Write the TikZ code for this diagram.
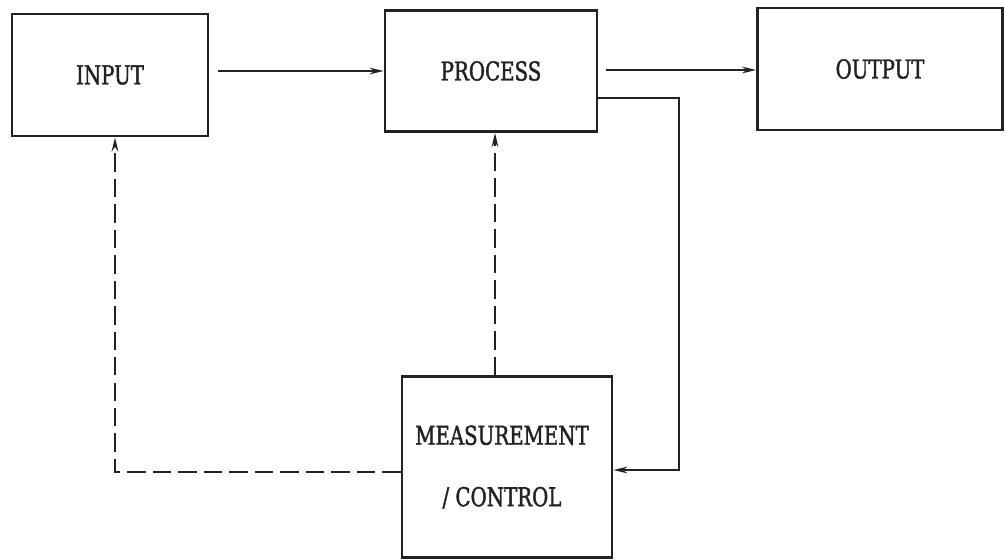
\documentclass[tikz,border=0pt]{standalone}
\usepackage{fontspec}
\newfontfamily\boxfont[FakeStretch=0.76,FakeBold=1.5]{DejaVu Serif}
\usetikzlibrary{calc,arrows.meta,positioning}
\definecolor{ink}{HTML}{222222}
\tikzset{
  blk/.style={draw=ink,line width=1.6pt,minimum width=#1,inner sep=0pt,font=\boxfont\fontsize{14.8}{35}\selectfont,text=ink,align=center},
  ar/.style={-{Stealth[length=8pt,width=3.8pt]},line width=1.1pt,ink},
  dar/.style={ar,line width=1.3pt,dash pattern=on 10.5pt off 4pt}
}
\begin{document}
\begin{tikzpicture}[x=0.02cm,y=-0.02cm]
\useasboundingbox (0,0) rectangle (1005,559);
% boxes
\node[blk=3.92cm,minimum height=2.44cm] (input) at (110,75) {INPUT};
\node[blk=4.24cm,minimum height=2.42cm] (process) at (491,71) {PROCESS};
\node[blk=4.9cm,minimum height=2.44cm] (output) at (880,69) {OUTPUT};
\node[blk=4.2cm,minimum height=3.62cm] (meas) at (507,467) {\hspace*{-0.2cm}MEASUREMENT\\\hspace*{-0.2cm}/ CONTROL};
% forward path
\draw[ar] ($(input.east |- process.west)+(9,0)$) -- (process.west);
\draw[ar] ($(process.east)+(8,-1)$) -- ($(output.west)+(0,1)$);
\draw[ar] ($(process.east)+(0,27)$) -| ($(meas.east)+(66,3)$) -- ($(meas.east)+(0,3)$);
% control lines
\coordinate (pin) at ($(process.south)+(4,0)$);
\draw[dar] (pin |- meas.north) -- (pin);
\draw[dar] ($(meas.west)+(0,5)$) -| ($(input.south)+(5,0)$);
\end{tikzpicture}
\end{document}
